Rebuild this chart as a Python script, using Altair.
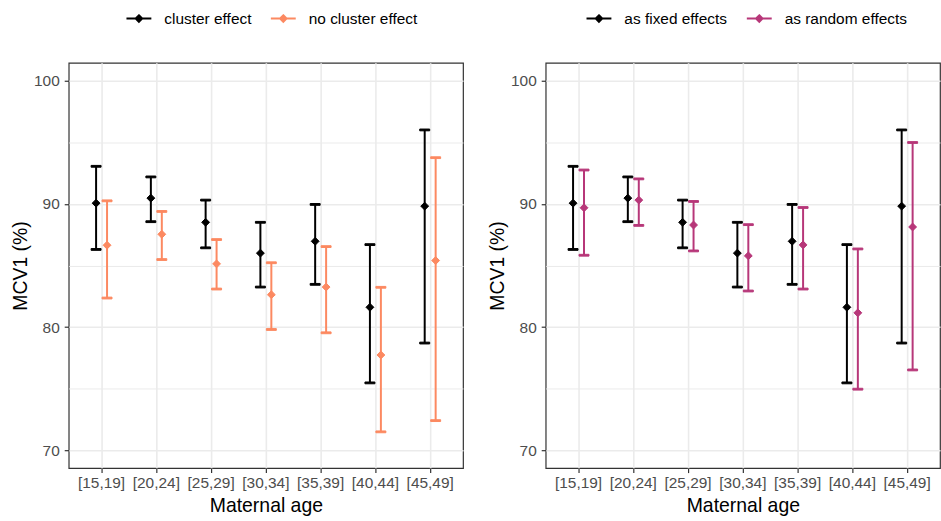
import altair as alt
import pandas as pd

# Maternal age groups
ages = ["[15,19]", "[20,24]", "[25,29]", "[30,34]", "[35,39]", "[40,44]", "[45,49]"]

# MCV1 coverage (%) with cluster effect (= cluster as fixed effects)
cluster_est = [90.05, 90.46, 88.50, 86.00, 86.96, 81.61, 89.81]
cluster_lo = [86.30, 88.55, 86.43, 83.25, 83.47, 75.48, 78.71]
cluster_hi = [93.04, 92.18, 90.30, 88.50, 89.95, 86.69, 95.99]

# MCV1 coverage (%) without cluster effect
nocluster_est = [86.64, 87.53, 85.13, 82.63, 83.25, 77.74, 85.40]
nocluster_lo = [82.36, 85.48, 83.09, 79.81, 79.54, 71.51, 72.42]
nocluster_hi = [90.24, 89.38, 87.10, 85.22, 86.53, 83.23, 93.74]

# MCV1 coverage (%) with cluster as random effects
random_est = [89.68, 90.30, 88.28, 85.78, 86.67, 81.16, 88.12]
random_lo = [85.83, 88.25, 86.18, 82.93, 83.09, 74.97, 76.53]
random_hi = [92.74, 92.02, 90.19, 88.31, 89.70, 86.34, 94.97]


def frame(names, series):
    rows = []
    for name, (est, lo, hi) in zip(names, series):
        for a, e, l, h in zip(ages, est, lo, hi):
            rows.append({"age": a, "model": name, "est": e, "lo": l, "hi": h})
    return pd.DataFrame(rows)


FONT = "Liberation Sans"
Y_DOMAIN = [68.57, 101.43]
LEGEND_PATH = "M-1,0L1,0M0,-0.26L0.26,0L0,0.26L-0.26,0Z"
DODGE = 5.5  # half of the pixel gap between the two series in an age group

minor = "datum.value % 10 !== 0"


def panel(df, names, colors, legend_x):
    color_scale = alt.Scale(domain=names, range=colors)
    legend = alt.Legend(
        title=None,
        orient="none",
        direction="horizontal",
        legendX=legend_x,
        legendY=-58,
        symbolType=LEGEND_PATH,
        symbolSize=625,
        symbolStrokeWidth=2,
        symbolOpacity=1,
        labelFontSize=15.5,
        labelColor="#000000",
        labelFont=FONT,
        labelOffset=12,
        columnPadding=15,
    )
    stroke = alt.Stroke("model:N", scale=color_scale, legend=legend)
    fill = alt.Fill("model:N", scale=color_scale, legend=legend)

    x = alt.X(
        "age:N",
        sort=ages,
        scale=alt.Scale(paddingInner=0.6, paddingOuter=0.4),
        axis=alt.Axis(
            title="Maternal age",
            labelAngle=0,
            domain=False,
            grid=True,
            gridColor="#EBEBEB",
            gridWidth=1.6,
            ticks=True,
            tickSize=4.5,
            tickColor="#333333",
            tickWidth=1.2,
            labelFontSize=15.5,
            labelColor="#4D4D4D",
            labelPadding=3,
            titleFontSize=19.5,
            titleFontWeight="normal",
            titleColor="#000000",
            titlePadding=6,
        ),
    )
    y_axis = alt.Axis(
        title="MCV1 (%)",
        values=[70, 75, 80, 85, 90, 95, 100],
        labelExpr="datum.value % 10 === 0 ? datum.label : ''",
        domain=False,
        grid=True,
        tickSize=4.5,
        tickColor="#333333",
        tickWidth=1.2,
        tickOpacity={"condition": {"test": minor, "value": 0}, "value": 1},
        gridWidth={"condition": {"test": minor, "value": 1.0}, "value": 1.6},
        gridColor="#EBEBEB",
        labelFontSize=15.5,
        labelColor="#4D4D4D",
        labelPadding=5,
        titleFontSize=19.5,
        titleFontWeight="normal",
        titleColor="#000000",
        titlePadding=3,
    )
    y_scale = alt.Scale(domain=Y_DOMAIN, nice=False, zero=False)

    layers = []
    for name, dx in zip(names, [-DODGE, DODGE]):
        base = alt.Chart(df).transform_filter(alt.datum.model == name)
        layers.append(
            base.mark_rule(strokeWidth=2, opacity=1, xOffset=dx).encode(
                x=x,
                y=alt.Y("lo:Q", scale=y_scale, axis=y_axis),
                y2="hi:Q",
                stroke=stroke,
            )
        )
        for field in ["lo", "hi"]:
            layers.append(
                base.mark_tick(size=10, thickness=1.8, opacity=1, xOffset=dx).encode(
                    x=x,
                    y=alt.Y(f"{field}:Q", scale=y_scale),
                    stroke=stroke,
                    fill=fill,
                )
            )
        layers.append(
            base.mark_point(shape="diamond", size=62, filled=False, strokeWidth=1, opacity=1, xOffset=dx).encode(
                x=x,
                y=alt.Y("est:Q", scale=y_scale),
                stroke=stroke,
                fill=fill,
            )
        )
    return alt.layer(*layers).properties(width=396, height=407)


left_names = ["cluster effect", "no cluster effect"]
right_names = ["as fixed effects", "as random effects"]

left = panel(
    frame(left_names, [(cluster_est, cluster_lo, cluster_hi), (nocluster_est, nocluster_lo, nocluster_hi)]),
    left_names, ["#000000", "#FC8961"], 57,
)
right = panel(
    frame(right_names, [(cluster_est, cluster_lo, cluster_hi), (random_est, random_lo, random_hi)]),
    right_names, ["#000000", "#B73779"], 40,
)

chart = (
    alt.hconcat(left, right, spacing=23)
    .resolve_scale(stroke="independent", fill="independent")
    .resolve_legend(stroke="independent", fill="independent")
    .properties(padding={"left": 10, "top": 3, "right": 0, "bottom": 0})
    .configure(font=FONT)
    .configure_view(stroke="#333333", strokeWidth=1.2)
)

chart.save("out.html", embed_options={"renderer": "svg", "actions": False})
